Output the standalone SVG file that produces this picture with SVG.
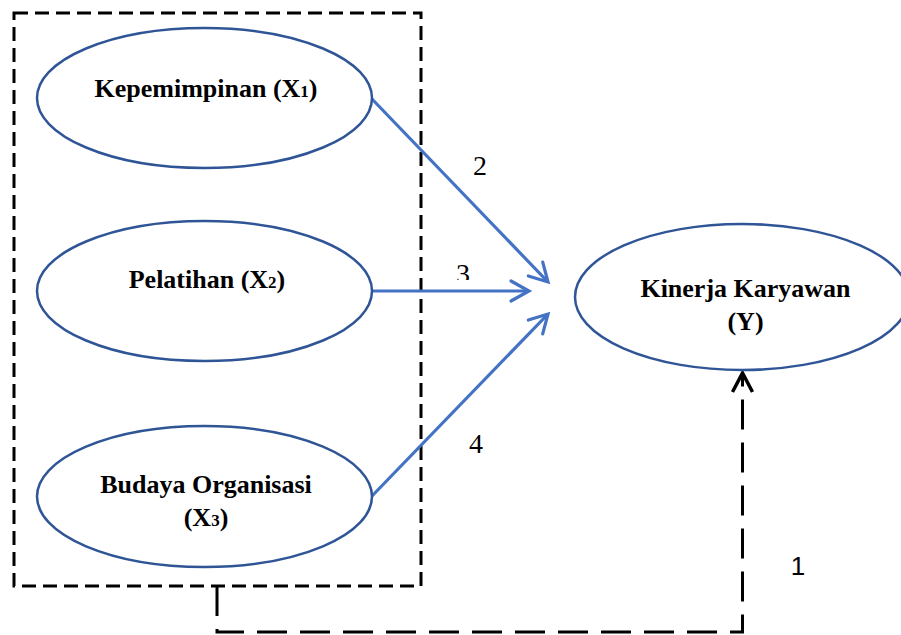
<svg xmlns="http://www.w3.org/2000/svg" width="901" height="635" viewBox="0 0 901 635">
<style>
.node{fill:#fff;stroke:#2F5597;stroke-width:2.5}
.lbl{font-weight:bold;font-size:26px;fill:#000;text-anchor:middle}
.sub{font-size:17px}
.num{font-size:28px;fill:#000;text-anchor:middle}
.num1{font-size:26px;fill:#000;text-anchor:middle}
.arr{fill:none;stroke:#4472C4;stroke-width:3.2;marker-end:url(#blueHead)}
.dash{fill:none;stroke:#000;stroke-width:3}
</style>
<defs>
<marker id="blueHead" markerUnits="userSpaceOnUse" viewBox="-22 -13 26 26" refX="0" refY="0" markerWidth="26" markerHeight="26" orient="auto">
<path d="M-18,-10 L0,0 L-18,10" fill="none" stroke="#4472C4" stroke-width="3.2" stroke-linecap="round"/>
</marker>
<marker id="blackHead" markerUnits="userSpaceOnUse" viewBox="-22 -13 26 26" refX="0" refY="0" markerWidth="26" markerHeight="26" orient="auto">
<path d="M-19,-10 L0,0 L-19,10" fill="none" stroke="#000" stroke-width="3.5"/>
</marker>
<clipPath id="clip3"><rect x="440" y="250" width="50" height="30"/></clipPath>
</defs>
<rect width="901" height="635" fill="#fff"/>

<g id="group-box">
<rect x="14" y="13" width="407" height="573" class="dash" stroke-dasharray="14 7"/>
</g>

<g id="connectors">
<line x1="372" y1="99" x2="548" y2="282" class="arr"/>
<line x1="372" y1="291" x2="529" y2="291" class="arr"/>
<line x1="372" y1="496" x2="548" y2="314" class="arr"/>
<path d="M217,586 L217,632 L742.5,632 L742.5,373" class="dash" stroke-dasharray="30 13" marker-end="url(#blackHead)"/>
<g font-family="Liberation Serif, Times New Roman, serif">
<text class="num" x="480" y="175">2</text>
<text class="num" x="463" y="283" clip-path="url(#clip3)">3</text>
<text class="num" x="476" y="453">4</text>
</g>
<text class="num1" font-family="Liberation Sans, Arial, sans-serif" x="798" y="575">1</text>
</g>

<g font-family="Liberation Serif, Times New Roman, serif">
<g id="node-x1">
<ellipse cx="204.5" cy="98" rx="167.5" ry="70" class="node"/>
<text class="lbl" x="206" y="97">Kepemimpinan (X<tspan class="sub">1</tspan>)</text>
</g>

<g id="node-x2">
<ellipse cx="204.5" cy="291" rx="167.5" ry="70" class="node"/>
<text class="lbl" x="207" y="288">Pelatihan (X<tspan class="sub">2</tspan>)</text>
</g>

<g id="node-x3">
<ellipse cx="204.5" cy="496.5" rx="167.5" ry="70.5" class="node"/>
<text class="lbl" x="206" y="493">Budaya Organisasi</text>
<text class="lbl" x="206" y="526">(X<tspan class="sub">3</tspan>)</text>
</g>

<g id="node-y">
<ellipse cx="742" cy="297" rx="167" ry="73" class="node"/>
<text class="lbl" x="745.5" y="297">Kinerja Karyawan</text>
<text class="lbl" x="745.5" y="330">(Y)</text>
</g>
</g>
</svg>
